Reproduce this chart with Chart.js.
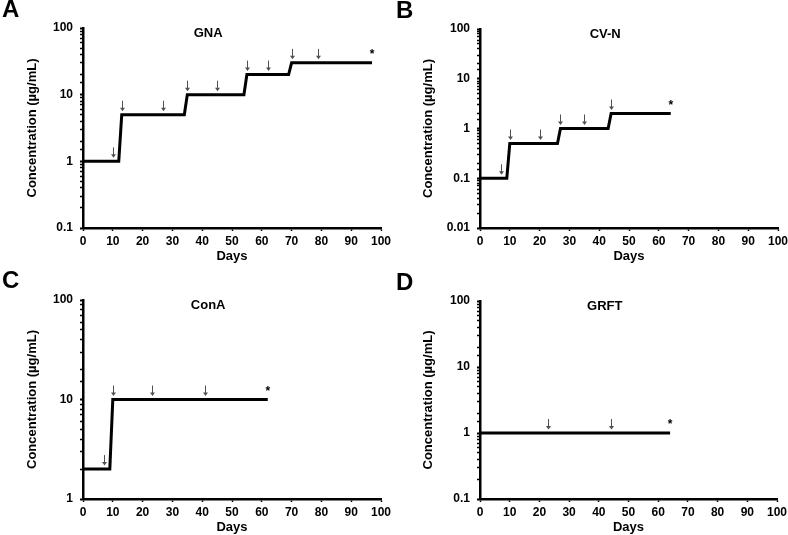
<!DOCTYPE html>
<html><head><meta charset="utf-8">
<script src="https://cdn.jsdelivr.net/npm/chart.js@4/dist/chart.umd.min.js"></script>
<style>
body{margin:0;background:#fff;width:788px;height:535px;position:relative;overflow:hidden}
canvas{position:absolute}
</style></head><body>
<canvas id="cA" width="394" height="268" style="left:0;top:0"></canvas>
<canvas id="cB" width="394" height="268" style="left:394px;top:0"></canvas>
<canvas id="cC" width="394" height="267" style="left:0;top:268px"></canvas>
<canvas id="cD" width="394" height="267" style="left:394px;top:268px"></canvas>
<script>
const FONT = '"Liberation Sans", Arial, sans-serif';

// ---- data ----
const xTickMin = 0, xTickMax = 100, xTickStep = 10;

const gnaDays = [0, 12, 13, 34, 35, 54, 55, 69, 70, 97];
const gnaConc = [1, 1, 5, 5, 10, 10, 20, 20, 30, 30];
const gnaArrowDays = [10, 13, 27, 35, 45, 55, 62, 70, 79];
const gnaArrowConc = [1, 5, 5, 10, 10, 20, 20, 30, 30];
const gnaStar = [97, 30];

const cvnDays = [0, 9, 10, 26, 27, 43, 44, 64];
const cvnConc = [0.1, 0.1, 0.5, 0.5, 1, 1, 2, 2];
const cvnArrowDays = [7, 10, 20, 27, 35, 44];
const cvnArrowConc = [0.1, 0.5, 0.5, 1, 1, 2];
const cvnStar = [64, 2];

const conaDays = [0, 9, 10, 62];
const conaConc = [2, 2, 10, 10];
const conaArrowDays = [7, 10, 23, 41];
const conaArrowConc = [2, 10, 10, 10];
const conaStar = [62, 10];

const grftDays = [0, 64];
const grftConc = [1, 1];
const grftArrowDays = [23, 44];
const grftArrowConc = [1, 1];
const grftStar = [64, 1];

const panels = [
  {id:'cA', letter:'A', title:'GNA', days:gnaDays, conc:gnaConc, aD:gnaArrowDays, aC:gnaArrowConc, star:gnaStar,
   yMin:0.1, yMax:100, pad:{left:0,right:13,top:28,bottom:0}, yW:83, xH:40, yTP:25, xTP:4, letterY:17},
  {id:'cB', letter:'B', title:'CV-N', days:cvnDays, conc:cvnConc, aD:cvnArrowDays, aC:cvnArrowConc, star:cvnStar,
   yMin:0.01, yMax:100, pad:{left:0,right:10,top:29,bottom:0}, yW:86, xH:40, yTP:27, xTP:4, letterY:18},
  {id:'cC', letter:'C', title:'ConA', days:conaDays, conc:conaConc, aD:conaArrowDays, aC:conaArrowConc, star:conaStar,
   yMin:1, yMax:100, pad:{left:0,right:13,top:32,bottom:0}, yW:83, xH:36, yTP:25, xTP:0, letterY:20},
  {id:'cD', letter:'D', title:'GRFT', days:grftDays, conc:grftConc, aD:grftArrowDays, aC:grftArrowConc, star:grftStar,
   yMin:0.1, yMax:100, pad:{left:0,right:11,top:33,bottom:0}, yW:86, xH:36, yTP:27, xTP:0, letterY:22}
];

const marks = {
  id: 'marks',
  afterDraw(chart, args, o) {
    const ctx = chart.ctx, xs = chart.scales.x, ys = chart.scales.y;
    ctx.save();
    // arrows
    ctx.strokeStyle = '#505050'; ctx.fillStyle = '#505050'; ctx.lineWidth = 1;
    o.aD.forEach((d, i) => {
      const px = Math.round(xs.getPixelForValue(d)) + 0.5;
      const py = ys.getPixelForValue(o.aC[i]);
      ctx.beginPath(); ctx.moveTo(px, py - 14); ctx.lineTo(px, py - 6); ctx.stroke();
      ctx.beginPath(); ctx.moveTo(px - 2.5, py - 7); ctx.lineTo(px + 2.5, py - 7); ctx.lineTo(px, py - 3.5); ctx.closePath(); ctx.fill();
    });
    // asterisk
    ctx.fillStyle = '#000';
    ctx.font = 'bold 12px ' + FONT;
    ctx.textAlign = 'center'; ctx.textBaseline = 'alphabetic';
    ctx.fillText('*', xs.getPixelForValue(o.star[0]), ys.getPixelForValue(o.star[1]) - 5);
    // panel title
    ctx.font = 'bold 13px ' + FONT;
    ctx.textBaseline = 'middle';
    ctx.fillText(o.title, xs.getPixelForValue(42), chart.chartArea.top + 5);
    // panel letter
    ctx.font = 'bold 24px ' + FONT;
    ctx.textAlign = 'left'; ctx.textBaseline = 'alphabetic';
    ctx.fillText(o.letter, 2, o.letterY);
    ctx.restore();
  }
};

panels.forEach(p => {
  new Chart(document.getElementById(p.id), {
    type: 'line',
    data: {
      datasets: [{
        data: p.days.map((d, i) => ({x: d, y: p.conc[i]})),
        borderColor: '#000', borderWidth: 3, pointRadius: 0, tension: 0, fill: false
      }]
    },
    plugins: [marks],
    options: {
      responsive: false, animation: false, devicePixelRatio: 1,
      layout: {padding: p.pad},
      plugins: {
        legend: {display: false}, tooltip: {enabled: false},
        marks: {aD: p.aD, aC: p.aC, star: p.star, title: p.title, letter: p.letter, letterY: p.letterY}
      },
      scales: {
        x: {
          type: 'linear', min: xTickMin, max: xTickMax,
          border: {display: true, color: '#000', width: 2.5},
          grid: {display: true, drawOnChartArea: false, drawTicks: true, tickLength: 3, tickColor: '#000', tickWidth: 1.5},
          ticks: {stepSize: xTickStep, color: '#000', padding: 3, font: {family: FONT, size: 12, weight: 'bold'}, maxRotation: 0, autoSkip: false},
          title: {display: true, text: 'Days', color: '#000', font: {family: FONT, size: 13, weight: 'bold'}, padding: {top: 0, bottom: p.xTP}},
          afterFit: s => { s.height = p.xH; s.paddingLeft = 0; s.paddingRight = 0; }
        },
        y: {
          type: 'logarithmic', min: p.yMin, max: p.yMax,
          border: {display: true, color: '#000', width: 2.5},
          grid: {display: true, drawOnChartArea: false, drawTicks: true, tickLength: 3, tickColor: '#000',
                 tickWidth: c => (c.tick && Math.abs(Math.log10(c.tick.value) - Math.round(Math.log10(c.tick.value))) < 1e-6) ? 2 : 1.5},
          ticks: {
            color: '#000', padding: 7, autoSkip: false,
            font: {family: FONT, size: 12, weight: 'bold'},
            callback: v => Math.abs(Math.log10(v) - Math.round(Math.log10(v))) < 1e-6 ? String(+v.toPrecision(3)) : ''
          },
          title: {display: true, text: 'Concentration (µg/mL)', color: '#000', font: {family: FONT, size: 13, weight: 'bold'}, padding: {top: p.yTP, bottom: 0}},
          afterFit: s => { s.width = p.yW; s.paddingTop = 0; s.paddingBottom = 0; }
        }
      }
    }
  });
});
</script>
</body></html>
